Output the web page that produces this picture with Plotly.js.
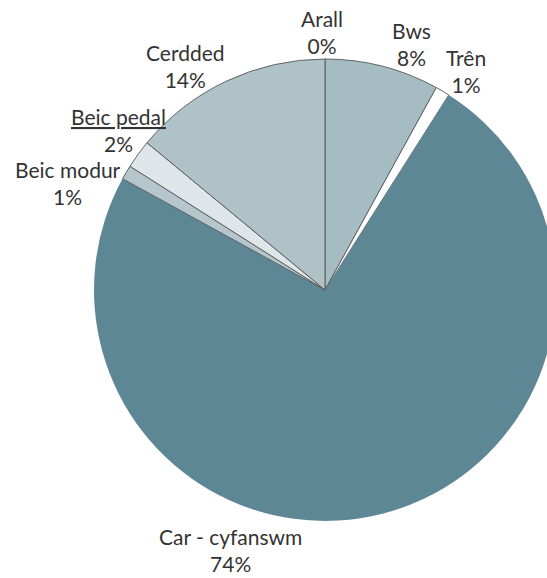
<!DOCTYPE html>
<html>
<head>
<meta charset="utf-8">
<script src="https://cdn.plot.ly/plotly-3.0.1.min.js"></script>
<style>
html,body{margin:0;padding:0;overflow:hidden;background:#fff;}
#chart{width:570px;height:578px;}
</style>
</head>
<body>
<div id="chart"></div>
<script>
var categories = ["Arall", "Bws", "Trên", "Car - cyfanswm", "Beic modur", "Beic pedal", "Cerdded"];
var percentValues = [0, 8, 1, 74, 1, 2, 14];
var sliceColors = ["#a6bcc3", "#a6bcc3", "#ffffff", "#5e8795", "#b5c7cc", "#dfe6e9", "#afc2c8"];

var W = 570, H = 578;
// label placement (pixels, centre of the two-line label)
var labelPos = [[322, 32], [411, 44], [466, 71], [230, 550], [68, 183], [118, 130], [185, 66]];

var lineColors = categories.map(function (c, i) { return i === 3 ? "#5e8795" : "#555555"; });
var lineWidths = categories.map(function (c, i) { return i === 3 ? 0 : 0.9; });

var trace = {
  type: "pie",
  labels: categories,
  values: percentValues,
  sort: false,
  direction: "clockwise",
  rotation: 0,
  textinfo: "none",
  marker: {colors: sliceColors, line: {color: lineColors, width: lineWidths}},
  showlegend: false,
  hoverinfo: "none",
  domain: {x: [94 / W, 556 / W], y: [57 / H, 519 / H]}
};

var annotations = categories.map(function (c, i) {
  var name = (c === "Beic pedal") ? "<u>" + c + "</u>" : c;
  return {
    xref: "paper", yref: "paper",
    x: labelPos[i][0] / W, y: 1 - labelPos[i][1] / H,
    xanchor: "center", yanchor: "middle",
    showarrow: false,
    align: "center",
    text: name + "<br>" + percentValues[i] + "%",
    font: {family: "Lato, 'Open Sans', sans-serif", size: 21, color: "#333333"}
  };
});

Plotly.newPlot("chart", [trace], {
  width: W, height: H,
  margin: {l: 0, r: 0, t: 0, b: 0},
  paper_bgcolor: "#ffffff",
  showlegend: false,
  annotations: annotations
}, {staticPlot: true});
</script>
</body>
</html>
